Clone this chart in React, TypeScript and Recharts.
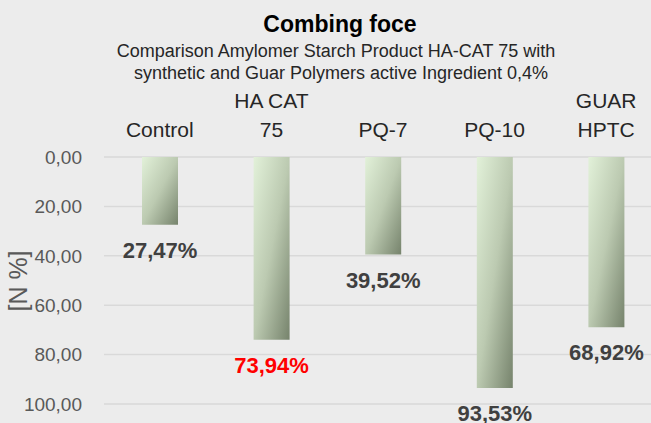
import { Bar, BarChart, CartesianGrid, LabelList, XAxis, YAxis } from 'recharts'

const categories = ['Control', 'HA CAT 75', 'PQ-7', 'PQ-10', 'GUAR HPTC']
const categoryLines = [['Control'], ['HA CAT', '75'], ['PQ-7'], ['PQ-10'], ['GUAR', 'HPTC']]
const combingForce = [27.47, 73.94, 39.52, 93.53, 68.92]
const labelColors = ['#404040', '#ff0000', '#404040', '#404040', '#404040']
const yTicks = [0, 20, 40, 60, 80, 100]

const data = categories.map((name, i) => ({
  name,
  value: combingForce[i],
}))

const FONT = '"Liberation Sans", Arial, sans-serif'
const MARGIN = { top: 97, right: 0, bottom: 19, left: 0 }
const X_AXIS_HEIGHT = 60
const PLOT_TOP = MARGIN.top + X_AXIS_HEIGHT

const fmt = (v: number) => v.toFixed(2).replace('.', ',')

function CategoryTick(props: any) {
  const { x, payload, index } = props
  const lines: string[] = categoryLines[index] ?? [payload.value]
  return (
    <g>
      {lines.map((line, i) => (
        <text
          key={i}
          x={x}
          y={PLOT_TOP - 20 - (lines.length - 1 - i) * 29}
          textAnchor="middle"
          fontSize={21}
          fontFamily={FONT}
          fill="#262626"
        >
          {line}
        </text>
      ))}
    </g>
  )
}

function ValueLabel(props: any) {
  const { x, y, width, height, index } = props
  const end = Math.max(y, y + height)
  return (
    <text
      x={x + width / 2}
      y={end + 33}
      textAnchor="middle"
      fontSize={22}
      fontWeight="bold"
      fontFamily={FONT}
      fill={labelColors[index]}
    >
      {fmt(combingForce[index]) + '%'}
    </text>
  )
}

export default function App() {
  return (
    <div
      style={{
        position: 'absolute',
        left: 0,
        top: 0,
        width: 651,
        height: 423,
        overflow: 'hidden',
        background: '#ececec',
      }}
    >
      <BarChart width={662} height={423} data={data} margin={MARGIN}>
        <defs>
          <linearGradient id="barFill" x1="0" y1="0" x2="1" y2="1">
            <stop offset="0%" stopColor="#e2f1d9" />
            <stop offset="50%" stopColor="#bccab1" />
            <stop offset="100%" stopColor="#76836c" />
          </linearGradient>
        </defs>
        <CartesianGrid vertical={false} stroke="#d9d9d9" strokeWidth={1.5} />
        <XAxis
          dataKey="name"
          orientation="top"
          height={X_AXIS_HEIGHT}
          axisLine={false}
          tickLine={false}
          tick={<CategoryTick />}
          interval={0}
        />
        <YAxis
          type="number"
          domain={[0, 100]}
          ticks={yTicks}
          reversed
          width={104}
          axisLine={false}
          tickLine={false}
          tickMargin={16}
          tickFormatter={fmt}
          tick={{ fill: '#595959', fontSize: 19, fontFamily: FONT }}
        />
        <Bar dataKey="value" fill="url(#barFill)" barSize={36} isAnimationActive={false}>
          <LabelList dataKey="value" content={<ValueLabel />} />
        </Bar>
      </BarChart>
      <svg
        width={651}
        height={423}
        style={{ position: 'absolute', left: 0, top: 0, pointerEvents: 'none' }}
      >
        <text x={340} y={32} textAnchor="middle" fontSize={23} fontWeight="bold" fontFamily={FONT} fill="#000">
          Combing foce
        </text>
        <text x={336} y={57} textAnchor="middle" fontSize={18} fontFamily={FONT} fill="#262626">
          Comparison Amylomer Starch Product HA-CAT 75 with
        </text>
        <text x={341} y={79} textAnchor="middle" fontSize={18} fontFamily={FONT} fill="#262626">
          synthetic and Guar Polymers active Ingredient 0,4%
        </text>
        <text
          x={27}
          y={281}
          transform="rotate(-90 27 281)"
          textAnchor="middle"
          fontSize={25}
          fontFamily={FONT}
          fill="#595959"
        >
          [N %]
        </text>
      </svg>
    </div>
  )
}
